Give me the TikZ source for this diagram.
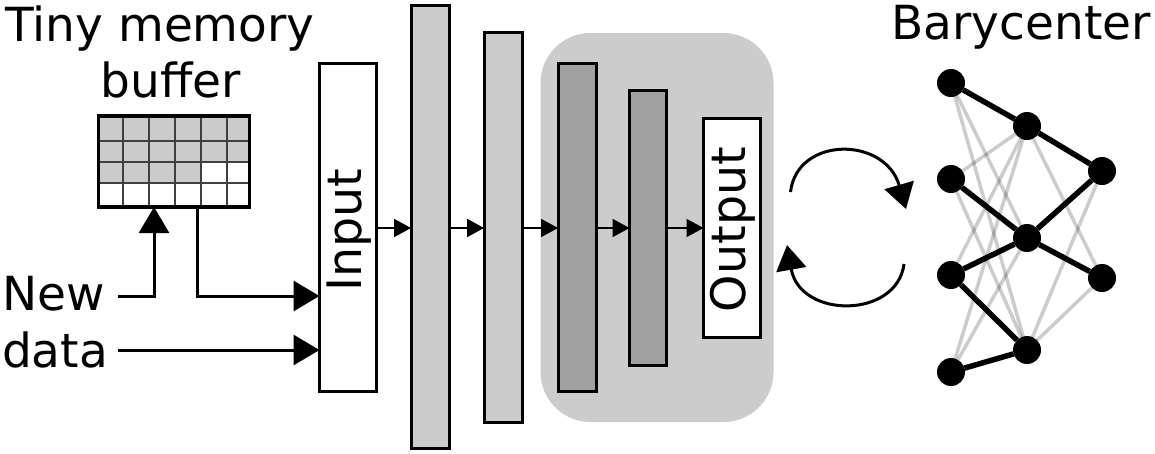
\documentclass[tikz,border=0pt]{standalone}
\usepackage{fontspec}
\setmainfont{DejaVu Sans}
\usetikzlibrary{arrows.meta,calc}
\definecolor{lgrey}{gray}{0.8}
\definecolor{mgrey}{gray}{0.63}
\tikzset{
  lab/.style={inner sep=0pt,font=\fontsize{47}{47}\selectfont,text=black,anchor=base},
  rlab/.style={rotate=90,inner sep=0pt,font=\fontsize{47.5}{47.5}\selectfont},
  block/.style={draw=black,line width=3pt,inner sep=0pt,outer sep=0pt,rectangle},
  nn/.style={circle,fill=black,minimum size=28pt,inner sep=0pt,outer sep=0pt},
  strong/.style={black,line width=5.5pt},
  weak/.style={black,opacity=0.2,line width=3.5pt},
  bigarrow/.style={line width=3pt,-{Triangle[length=26pt,width=30pt]}},
  smallarrow/.style={line width=2pt,-{Triangle[length=17pt,width=18pt]}},
  cycle arrow/.style={line width=3pt,-{Triangle[length=25pt,width=30pt]}},
  gridl/.style={line width=1.5pt,draw=black!75},
}
\begin{document}
\begin{tikzpicture}[x=1pt,y=-1pt]
\useasboundingbox (0,0) rectangle (1155,453);
% shaded region
\node[fill=lgrey,rounded corners=50pt,minimum width=233pt,minimum height=389pt,inner sep=0pt,outer sep=0pt] (region) at (657,227.5) {};
% labels
\node[lab] (tiny) at (160,41) {Tiny memory};
\node[lab] (buffer) at (171,97) {buffer};
\node[lab] (new) at (54,310) {New};
\node[lab] (data) at (55,367) {data};
\node[lab] (bary) at (1021,39) {Barycenter};
% buffer
\fill[lgrey] (98,115) rectangle (250,183);
\fill[white] (201,162) rectangle (250,183);
\foreach \gx in {123,149,175,201,227} \draw[gridl] (\gx,115) -- (\gx,207);
\foreach \gy in {141,162,183} \draw[gridl] (98,\gy) -- (250,\gy);
\node[draw=black,line width=3.5pt,minimum width=151pt,minimum height=91pt,inner sep=0pt,outer sep=0pt] (buf) at (174,161.5) {};
% blocks
\node[block,fill=white,minimum width=57pt,minimum height=328pt] (input) at (348,227) {};
\node[rlab] (inputlab) at (349,230) {Input};
\node[block,fill=lgrey,minimum width=38pt,minimum height=443pt] (la) at (430,227) {};
\node[block,fill=lgrey,minimum width=38pt,minimum height=390pt] (lb) at (503,227) {};
\node[block,fill=mgrey,minimum width=38pt,minimum height=328pt] (lc) at (577,227) {};
\node[block,fill=mgrey,minimum width=37pt,minimum height=275pt] (ld) at (648,227.5) {};
\node[block,fill=white,minimum width=57pt,minimum height=219pt] (output) at (732,227.5) {};
\node[rlab] (outputlab) at (733,229.5) {Output};
% connectors between layers
\coordinate (row) at (0,228);
\draw[smallarrow] (input.east |- row) -- (la.west |- row);
\draw[smallarrow] (la.east |- row) -- (lb.west |- row);
\draw[smallarrow] (lb.east |- row) -- (lc.west |- row);
\draw[smallarrow] (lc.east |- row) -- (ld.west |- row);
\draw[smallarrow] (ld.east |- row) -- (output.west |- row);
% inputs
\coordinate (newend) at (118,296);
\coordinate (dataend) at (118,350);
\coordinate (upx) at (154,207);
\coordinate (downx) at (197,207);
\draw[bigarrow] (newend) -| (upx);
\draw[bigarrow] (downx) |- (input.west |- newend);
\draw[bigarrow] (dataend) -- (input.west |- dataend);
% cycle arrows
\coordinate (ca) at (790.5,192);
\coordinate (cb) at (906,209);
\coordinate (cc) at (904,264);
\coordinate (cd) at (787,245);
\draw[cycle arrow] (ca) .. controls (797,136) and (885,136) .. (cb);
\draw[cycle arrow] (cc) .. controls (897,319) and (800,319) .. (cd);
% network
\node[nn] (a1) at (951,83) {};
\node[nn] (a2) at (951,179) {};
\node[nn] (a3) at (951,275) {};
\node[nn] (a4) at (951,372) {};
\node[nn] (b1) at (1027,126) {};
\node[nn] (b2) at (1027,238) {};
\node[nn] (b3) at (1027,350) {};
\node[nn] (c1) at (1102,171) {};
\node[nn] (c2) at (1102,278) {};
\foreach \p/\q in {a1/b2,a1/b3,a2/b1,a2/b3,a3/b1,a4/b1,a4/b2,b1/c2,b3/c1,b3/c2}
  \draw[weak] (\p) -- (\q);
\foreach \p/\q in {a1/b1,b1/c1,a2/b2,b2/c1,a3/b2,b2/c2,a3/b3,a4/b3}
  \draw[strong] (\p) -- (\q);
\end{tikzpicture}
\end{document}
